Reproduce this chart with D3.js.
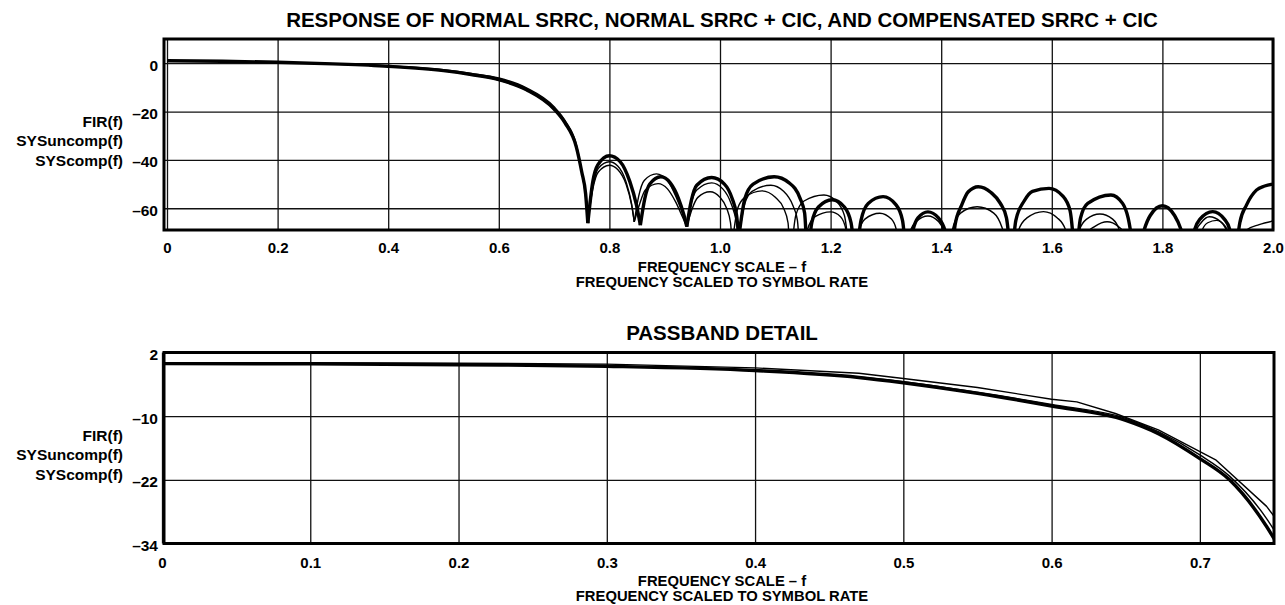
<!DOCTYPE html>
<html>
<head>
<meta charset="utf-8">
<script src="https://cdn.jsdelivr.net/npm/d3@7"></script>
<style>
  body { margin: 0; background: #fff; }
  text { font-family: "Liberation Sans", Arial, sans-serif; font-weight: bold; fill: #000; }
</style>
</head>
<body>
<div id="chart"></div>
<script>
// tick values and labels
const topXTicks = [0, 0.2, 0.4, 0.6, 0.8, 1.0, 1.2, 1.4, 1.6, 1.8, 2.0]
const topYTicks = [0, -20, -40, -60]
const botXTicks = [0, 0.1, 0.2, 0.3, 0.4, 0.5, 0.6, 0.7]
const botYTicks = [2, -10, -22, -34]
const seriesNames = ["FIR(f)", "SYSuncomp(f)", "SYScomp(f)"]
const xTitles = ["FREQUENCY SCALE \u2013 f", "FREQUENCY SCALED TO SYMBOL RATE"]
const topTitle = "RESPONSE OF NORMAL SRRC, NORMAL SRRC + CIC, AND COMPENSATED SRRC + CIC"
const botTitle = "PASSBAND DETAIL"

// top plot, [f, dB] (nulls below the frame are clipped)
const topFir = [
  [0, 1.0], [0.1, 0.8], [0.2, 0.4], [0.3, -0.3], [0.4, -1.3], [0.5, -3.1], [0.55, -4.7], [0.6, -6.8],
  [0.65, -11.0], [0.7, -19.0], [0.72, -24.8], [0.74, -34.5], [0.75, -45.0], [0.757, -54], [0.761, -66.2],
  [0.77, -49], [0.779, -42.1], [0.80, -38.3], [0.819, -40.6], [0.837, -49], [0.849, -58.7], [0.856, -67],
  [0.864, -56], [0.873, -50], [0.893, -47], [0.91, -49.5], [0.925, -56], [0.935, -63], [0.94, -67.6],
  [0.948, -57], [0.958, -50.5], [0.985, -47.3], [1.008, -50], [1.022, -56], [1.03, -63], [1.034, -72],
  [1.045, -56], [1.06, -50], [1.098, -47], [1.125, -49.5], [1.145, -56], [1.153, -62], [1.158, -85],
  [1.166, -66], [1.178, -59.5], [1.203, -56.5], [1.225, -59.5], [1.237, -66], [1.245, -85],
  [1.255, -65], [1.268, -58], [1.295, -55.2], [1.318, -58.5], [1.33, -65], [1.338, -85],
  [1.348, -70], [1.358, -64], [1.376, -61.5], [1.395, -64], [1.408, -70], [1.42, -85],
  [1.425, -67], [1.437, -58.7], [1.449, -53.2], [1.467, -51.1], [1.49, -53.5], [1.507, -58], [1.518, -64], [1.527, -85],
  [1.535, -65], [1.55, -57], [1.565, -53], [1.595, -51.8], [1.62, -55], [1.633, -61], [1.643, -85],
  [1.652, -64], [1.665, -58], [1.707, -54.5], [1.728, -58], [1.738, -64], [1.752, -85],
  [1.767, -69], [1.778, -63], [1.80, -59], [1.822, -63], [1.834, -69], [1.852, -85],
  [1.858, -69], [1.868, -64.5], [1.891, -61.4], [1.912, -64.5], [1.922, -69], [1.93, -85],
  [1.94, -66], [1.952, -58.7], [1.97, -52.5], [1.985, -50.8], [2.0, -50]
]
const topSysUncomp = [
  [0, 1.0], [0.1, 0.8], [0.2, 0.3], [0.3, -0.4], [0.4, -1.4], [0.5, -3.2], [0.55, -4.8], [0.6, -7.0],
  [0.65, -11.2], [0.7, -19.2], [0.72, -25.0], [0.74, -34.8], [0.75, -45.3], [0.757, -55], [0.761, -65.6],
  [0.77, -52], [0.78, -45], [0.80, -42.2], [0.815, -44], [0.83, -50], [0.84, -58.5], [0.845, -65.6],
  [0.855, -58], [0.865, -52.5], [0.888, -49.8], [0.905, -52], [0.92, -57.5], [0.932, -63.5], [0.94, -67.6],
  [0.95, -60], [0.96, -55.5], [0.982, -53.2], [1.0, -55.5], [1.012, -60], [1.019, -66], [1.022, -75],
  [1.032, -60], [1.045, -55.5], [1.076, -52.8], [1.1, -55.5], [1.115, -60], [1.123, -66], [1.127, -85],
  [1.137, -63], [1.152, -57], [1.188, -54.5], [1.21, -57], [1.225, -63], [1.236, -85],
  [1.25, -70], [1.262, -64.5], [1.289, -62.1], [1.31, -64.5], [1.32, -70], [1.327, -85],
  [1.37, -74], [1.41, -85],
  [1.42, -69], [1.435, -62], [1.465, -59.4], [1.495, -62], [1.51, -68], [1.527, -85],
  [1.54, -69], [1.555, -64], [1.585, -61.4], [1.61, -64], [1.625, -69], [1.637, -85],
  [1.65, -69], [1.663, -64.5], [1.687, -62.4], [1.71, -64.5], [1.722, -69], [1.735, -85],
  [1.79, -72], [1.85, -85],
  [1.86, -70], [1.87, -66], [1.885, -63.5], [1.905, -65.5], [1.918, -70], [1.935, -85],
  [1.952, -69], [1.975, -66.8], [2.0, -65.3]
]
const topSysComp = [
  [0, 1.0], [0.1, 0.8], [0.2, 0.4], [0.3, -0.2], [0.4, -1.1], [0.5, -2.7], [0.55, -4.2], [0.6, -6.1],
  [0.65, -10.2], [0.7, -18.0], [0.72, -23.8], [0.74, -33.5], [0.75, -44.5], [0.757, -54], [0.761, -65.6],
  [0.77, -51], [0.78, -43.5], [0.80, -40.8], [0.815, -42.5], [0.83, -49], [0.84, -58], [0.845, -65.6],
  [0.853, -55], [0.863, -48.5], [0.885, -45.8], [0.905, -48.5], [0.92, -55], [0.932, -62], [0.94, -67.6],
  [0.948, -58], [0.958, -52.5], [0.985, -49.5], [1.005, -52], [1.02, -58], [1.03, -66], [1.034, -72],
  [1.045, -58], [1.058, -53], [1.092, -50.5], [1.115, -53], [1.132, -59], [1.14, -65], [1.145, -85],
  [1.158, -69], [1.172, -63.5], [1.20, -61.5], [1.218, -63.5], [1.228, -69], [1.234, -85],
  [1.28, -73], [1.33, -85],
  [1.343, -70], [1.355, -65.5], [1.376, -63.2], [1.395, -65.5], [1.405, -70], [1.412, -85],
  [1.47, -71], [1.53, -85],
  [1.59, -72], [1.65, -85],
  [1.665, -70], [1.678, -67.5], [1.70, -65.6], [1.72, -67.5], [1.735, -72], [1.745, -85],
  [1.8, -73], [1.86, -85],
  [1.872, -69], [1.882, -66], [1.898, -65], [1.912, -67], [1.922, -72], [1.93, -85],
  [1.96, -74], [2.0, -73]
]

// passband detail, [f, dB]
const botFir = [
  [0, -0.1], [0.1, -0.15], [0.2, -0.3], [0.3, -0.6], [0.4, -1.4], [0.47, -2.7], [0.5, -3.7], [0.55, -5.7],
  [0.6, -8.1], [0.65, -10.8], [0.672, -13.3], [0.7, -18.0], [0.72, -22.0], [0.745, -30.8], [0.752, -34]
]
const botSysUncomp = [
  [0, -0.1], [0.1, -0.15], [0.2, -0.3], [0.3, -0.55], [0.4, -1.3], [0.47, -2.6], [0.5, -3.5], [0.55, -5.5],
  [0.6, -7.8], [0.65, -10.4], [0.672, -12.9], [0.7, -17.3], [0.72, -21.3], [0.745, -29.3], [0.752, -32.3]
]
const botSysComp = [
  [0, 0.1], [0.1, 0.1], [0.2, 0.0], [0.3, -0.2], [0.4, -0.9], [0.47, -1.9], [0.5, -2.9], [0.55, -4.6],
  [0.6, -6.8], [0.617, -7.3], [0.643, -9.5], [0.672, -12.6], [0.711, -18.3], [0.745, -27.0], [0.752, -29.6]
]

const w = 1285
const h = 605

const svg = d3.select("#chart")
  .append("svg")
  .attr("width", w)
  .attr("height", h)

const dash = d => String(d).replace("-", "\u2013")

// split a trace at its nulls so each lobe is a smooth arch with sharp nulls
function lobes(data) {
  const segs = []
  let cur = [data[0]]
  for (let i = 1; i < data.length; i++) {
    cur.push(data[i])
    if (i < data.length - 1 && data[i][1] < data[i - 1][1] && data[i][1] < data[i + 1][1]) {
      segs.push(cur)
      cur = [data[i]]
    }
  }
  segs.push(cur)
  return segs
}

function panel(o) {
  const x = d3.scaleLinear().domain(o.xDomain).range(o.xRange)
  const y = d3.scaleLinear().domain(o.yDomain).range([o.bottom, o.top])
  const g = svg.append("g")

  // grid via axes
  g.append("g")
    .attr("transform", "translate(0," + o.bottom + ")")
    .call(d3.axisBottom(x).tickValues(o.xTicks).tickSize(-(o.bottom - o.top)).tickPadding(0)
      .tickFormat(o.xFormat))
    .call(a => a.select(".domain").remove())
    .call(a => a.selectAll("line").attr("stroke", "#111").attr("stroke-width", 1.3))
    .call(a => a.selectAll("text").attr("y", o.xLabelY - o.bottom).attr("dy", 0)
      .attr("font-size", 15).attr("fill", "#000"))

  g.append("g")
    .attr("transform", "translate(" + o.left + ",0)")
    .call(d3.axisLeft(y).tickValues(o.yTicks).tickSize(-(o.right - o.left)).tickPadding(6)
      .tickFormat(dash))
    .call(a => a.select(".domain").remove())
    .call(a => a.selectAll("line").attr("stroke", "#111").attr("stroke-width", 1.3))
    .call(a => a.selectAll("text").attr("dy", "0.45em").attr("font-size", 15.5).attr("fill", "#000"))

  // clip
  g.append("clipPath").attr("id", o.id)
    .append("rect")
    .attr("x", o.left).attr("y", o.top)
    .attr("width", o.right - o.left).attr("height", o.bottom - o.top)

  const curves = g.append("g").attr("clip-path", "url(#" + o.id + ")")
  o.series.forEach(s => {
    const line = d3.line().x(d => x(d[0])).y(d => y(d[1])).curve(s.curve)
    const parts = s.curve === d3.curveLinear ? [s.data] : lobes(s.data)
    curves.selectAll(null)
      .data(parts)
      .enter()
      .append("path")
      .attr("d", line)
      .attr("fill", "none")
      .attr("stroke", "#000")
      .attr("stroke-width", s.width)
      .attr("stroke-linejoin", "round")
  })

  // frame
  g.append("rect")
    .attr("x", o.left).attr("y", o.top)
    .attr("width", o.right - o.left).attr("height", o.bottom - o.top)
    .attr("fill", "none").attr("stroke", "#000").attr("stroke-width", 3)

  // titles
  g.append("text").attr("x", 722).attr("y", o.titleY)
    .attr("text-anchor", "middle").attr("font-size", 20.5).text(o.title)

  g.selectAll(null).data(xTitles).enter().append("text")
    .attr("x", 722).attr("y", (d, i) => o.xTitleY + i * 15)
    .attr("text-anchor", "middle").attr("font-size", 14.8).text(d => d)

  g.selectAll(null).data(seriesNames).enter().append("text")
    .attr("x", 123).attr("y", (d, i) => o.nameY + i * 19.5)
    .attr("text-anchor", "end").attr("font-size", 15.5).text(d => d)
}

panel({
  id: "clipTop", left: 164, right: 1273, top: 39, bottom: 230,
  xDomain: [0, 2], xRange: [167, 1273], yDomain: [-69, 10],
  xTicks: topXTicks, yTicks: topYTicks,
  xFormat: d => d === 0 ? "0" : d3.format(".1f")(d),
  xLabelY: 252.5, titleY: 26.5, title: topTitle, xTitleY: 272, nameY: 126.5,
  series: [
    { data: topSysUncomp, width: 1.4, curve: d3.curveMonotoneX },
    { data: topSysComp, width: 1.4, curve: d3.curveMonotoneX },
    { data: topFir, width: 3.4, curve: d3.curveMonotoneX }
  ]
})

panel({
  id: "clipBot", left: 164, right: 1274, top: 352.5, bottom: 543.5,
  xDomain: [0, 0.75], xRange: [162, 1274], yDomain: [-34, 2],
  xTicks: botXTicks, yTicks: botYTicks,
  xFormat: d => d === 0 ? "0" : d3.format(".1f")(d),
  xLabelY: 568, titleY: 340, title: botTitle, xTitleY: 585.5, nameY: 440.5,
  series: [
    { data: botSysUncomp, width: 1.4, curve: d3.curveMonotoneX },
    { data: botSysComp, width: 1.4, curve: d3.curveLinear },
    { data: botFir, width: 3.4, curve: d3.curveMonotoneX }
  ]
})
</script>
</body>
</html>
